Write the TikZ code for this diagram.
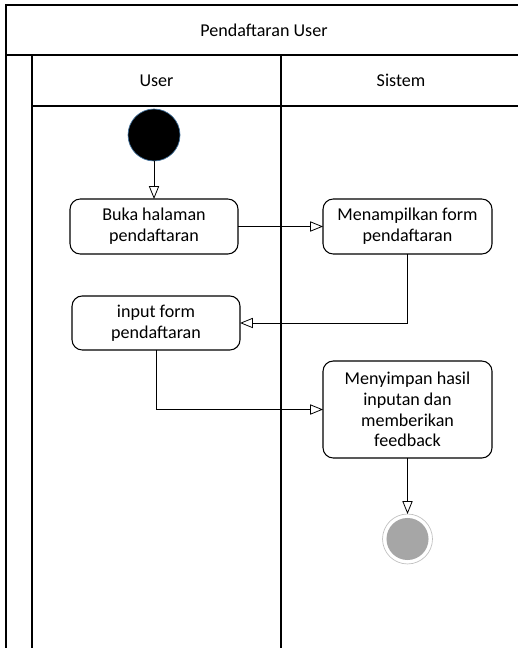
\documentclass[tikz,border=0pt]{standalone}
\usepackage{fontspec}
\setmainfont{Carlito}
\usetikzlibrary{arrows.meta}
\definecolor{c41719c}{RGB}{65,113,156}
\definecolor{ca6a6a6}{RGB}{166,166,166}
\definecolor{cbfbfbf}{RGB}{191,191,191}
\begin{document}
\begin{tikzpicture}[y=1cm, x=1cm, inner sep=0pt, outer sep=0pt,
  every node/.append style={font=\fontsize{13.6}{15.6}\selectfont, align=center},
  lane/.style={draw=black, line width=1.3pt},
  action/.style={draw=black, line width=0.8pt, rounded corners=0.27cm, minimum width=4.445cm},
  flow/.style={draw=black, line width=0.6pt, -{Triangle[open, length=0.34cm, width=0.27cm, fill=white]}}]
  \useasboundingbox (0.0, 0.0) rectangle (13.705, 17.145);

  \path[lane] (13.705, 17.012) -- (0.159, 17.012) -- (0.159, 0.0);

  \path[lane] (0.159, 15.69) -- (13.705, 15.69);

  \path[lane] (0.847, 0.0) -- (0.847, 15.69);

  \path[lane] (0.847, 14.34) -- (13.705, 14.34);

  \path[lane] (7.435, 0.0) -- (7.435, 15.69);

  \node[text=black] (title) at (6.985, 16.351){Pendaftaran User};

  \node[text=black] (laneuser) at (4.141, 15.015){User};

  \node[text=black] (lanesistem) at (10.61, 15.015){Sistem};

  \node[circle, draw=c41719c, fill=black, line width=0.5pt, minimum size=1.376cm] (start) at (4.075, 13.573){};

  \node[action, minimum height=1.455cm] (buka) at (4.075, 11.152){Buka halaman\\pendaftaran};

  \node[action, minimum width=4.471cm, minimum height=1.455cm] (tampil) at (10.782, 11.152){Menampilkan form\\pendaftaran};

  \node[action, minimum height=1.429cm] (input) at (4.128, 8.599){input form\\pendaftaran};

  \node[action, minimum width=4.471cm, minimum height=2.566cm] (simpan) at (10.782, 6.31){Menyimpan hasil\\inputan dan\\memberikan\\feedback};

  \node[circle, draw=cbfbfbf, fill=white, line width=0.5pt, minimum size=1.322cm] (end) at (10.782, 2.884){};

  \node[circle, fill=ca6a6a6, minimum size=1.112cm] (endin) at (end){};

  \draw[flow] (start) -- (buka);

  \draw[flow] (buka) -- (tampil);

  \draw[flow] (tampil.south) |- (input.east);

  \draw[flow] (input.south) |- (simpan.west);

  \draw[flow] (simpan) -- (end);

\end{tikzpicture}
\end{document}
